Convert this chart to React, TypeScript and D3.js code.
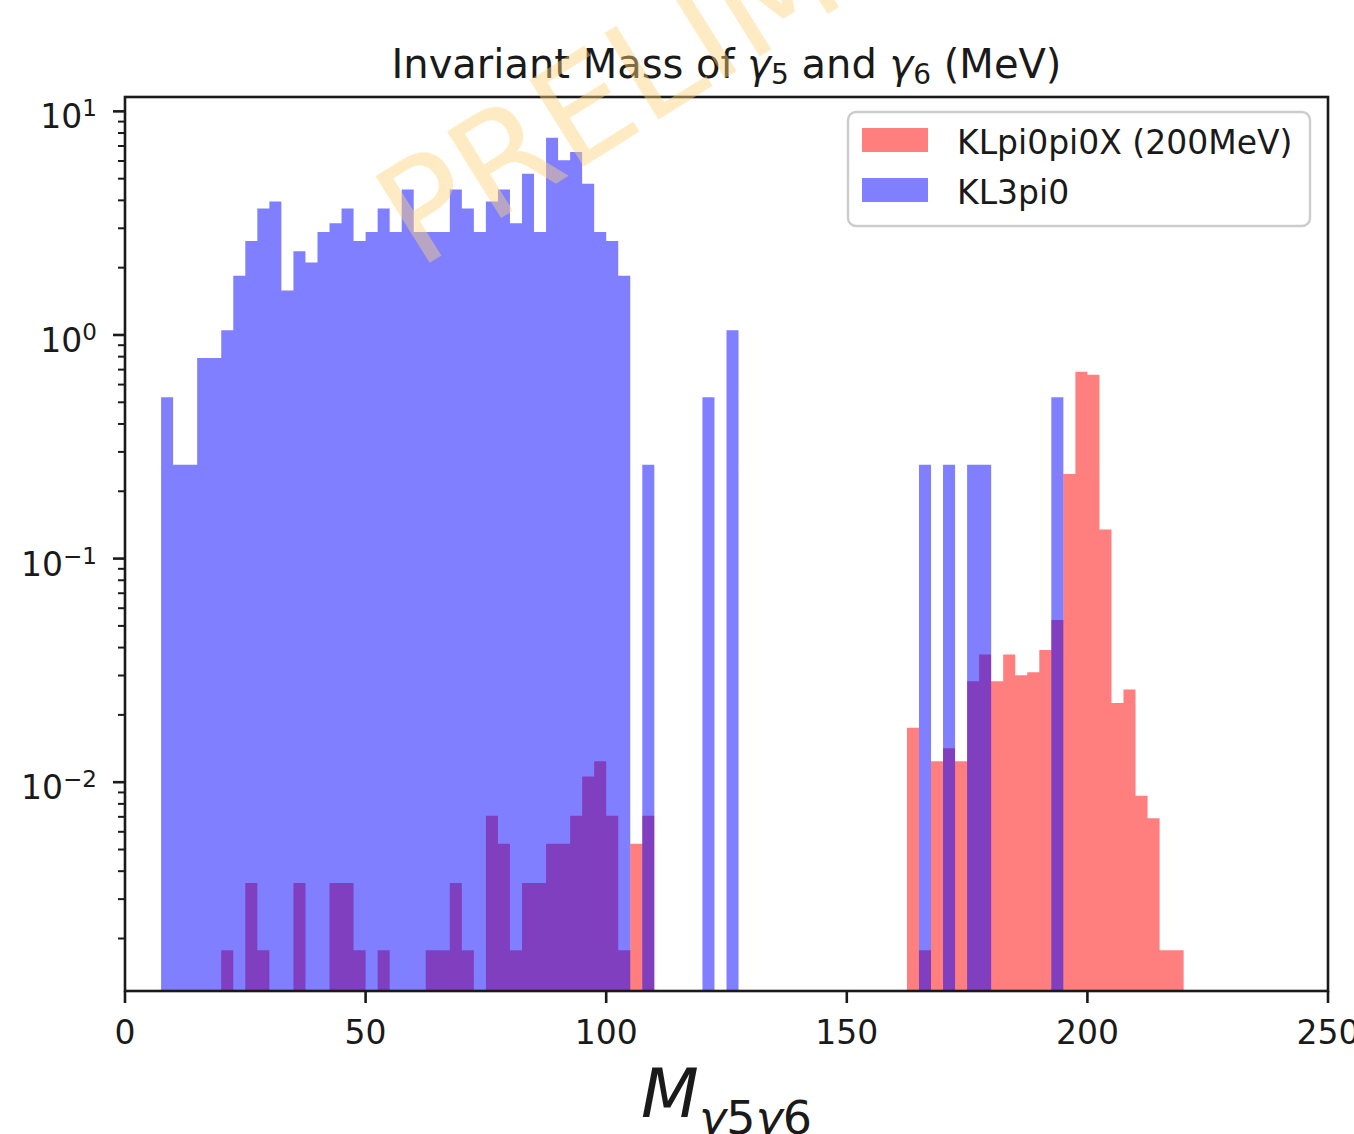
import * as d3 from "d3";

// histogram bins (left edges, width 2.5 MeV) and weighted counts
const BIN_WIDTH = 2.5;

const redBins = [20, 25, 27.5, 35, 42.5, 45, 47.5, 52.5, 62.5, 65, 67.5, 70, 75, 77.5, 80, 82.5, 85, 87.5, 90, 92.5, 95, 97.5, 100, 102.5, 105, 107.5, 162.5, 165, 167.5, 170, 172.5, 175, 177.5, 180, 182.5, 185, 187.5, 190, 192.5, 195, 197.5, 200, 202.5, 205, 207.5, 210, 212.5, 215, 217.5];
const redValues = [0.00177, 0.00354, 0.00177, 0.00354, 0.00354, 0.00354, 0.00177, 0.00177, 0.00177, 0.00177, 0.00354, 0.00177, 0.00708, 0.0053, 0.00177, 0.00354, 0.00354, 0.0053, 0.0053, 0.00708, 0.0106, 0.0124, 0.00708, 0.00177, 0.0053, 0.00708, 0.0175, 0.00177, 0.0124, 0.0142, 0.0124, 0.0283, 0.0372, 0.0283, 0.0372, 0.0301, 0.031, 0.039, 0.0531, 0.239, 0.684, 0.664, 0.135, 0.0226, 0.026, 0.0087, 0.0069, 0.00177, 0.00177];

const blueBins = [7.5, 10, 12.5, 15, 17.5, 20, 22.5, 25, 27.5, 30, 32.5, 35, 37.5, 40, 42.5, 45, 47.5, 50, 52.5, 55, 57.5, 60, 62.5, 65, 67.5, 70, 72.5, 75, 77.5, 80, 82.5, 85, 87.5, 90, 92.5, 95, 97.5, 100, 102.5, 107.5, 120, 125, 165, 170, 175, 177.5, 192.5];
const blueValues = [0.526, 0.263, 0.263, 0.789, 0.789, 1.05, 1.84, 2.63, 3.68, 3.95, 1.58, 2.37, 2.11, 2.89, 3.16, 3.68, 2.63, 2.89, 3.68, 2.89, 4.47, 2.89, 2.89, 2.89, 4.47, 3.68, 2.89, 3.95, 4.47, 3.16, 5.26, 2.89, 7.63, 6.05, 6.58, 4.74, 2.89, 2.63, 1.84, 0.263, 0.526, 1.05, 0.263, 0.263, 0.263, 0.263, 0.526];

const xTicks = [0, 50, 100, 150, 200, 250];
const yTicks = [1e-2, 1e-1, 1, 10];
const yTickExps = ["\u22122", "\u22121", "0", "1"];
const legendLabels = ["KLpi0pi0X (200MeV)", "KL3pi0"];

const W = 1354;
const H = 1134;
const M = { left: 125, right: 1328, top: 97, bottom: 991 };
const FONT = "DejaVu Sans";
const INK = "#1a1a1a";
const LW = 2.6;

export default function App() {
  const x = d3.scaleLinear().domain([0, 250]).range([M.left, M.right]);

  // matplotlib-style autoscale: 5% margin in log space
  const all = [...redValues, ...blueValues].filter((v) => v > 0);
  const lo = Math.log10(d3.min(all) as number);
  const hi = Math.log10(d3.max(all) as number);
  const pad = (hi - lo) * 0.05;
  const y = d3
    .scaleLog()
    .domain([10 ** (lo - pad), 10 ** (hi + pad)])
    .range([M.bottom, M.top]);

  const histPath = (bins: number[], values: number[]) => {
    const p = d3.path();
    bins.forEach((b, i) => {
      if (!(values[i] > 0)) return;
      const x0 = x(b);
      const x1 = x(b + BIN_WIDTH);
      const y0 = y(values[i]);
      p.rect(x0, y0, x1 - x0, M.bottom - y0);
    });
    return p.toString();
  };

  const [dMin, dMax] = y.domain();
  const minorTicks: number[] = [];
  for (let e = -3; e <= 1; e++) {
    for (let m = 2; m <= 9; m++) {
      const v = m * 10 ** e;
      if (v >= dMin && v <= dMax) minorTicks.push(v);
    }
  }

  const cx = (M.left + M.right) / 2;

  return (
    <svg
      width={W}
      height={H}
      style={{ position: "absolute", left: 0, top: 0, background: "#fff" }}
      fontFamily={FONT}
    >
      <defs>
        <clipPath id="plot">
          <rect x={M.left} y={M.top} width={M.right - M.left} height={M.bottom - M.top} />
        </clipPath>
      </defs>
      <rect x={0} y={0} width={W} height={H} fill="#fff" />

      <g clipPath="url(#plot)">
        <path d={histPath(redBins, redValues)} fill="#ff0000" fillOpacity={0.5} />
        <path d={histPath(blueBins, blueValues)} fill="#0000ff" fillOpacity={0.5} />
      </g>

      {/* frame */}
      <rect
        x={M.left}
        y={M.top}
        width={M.right - M.left}
        height={M.bottom - M.top}
        fill="none"
        stroke={INK}
        strokeWidth={LW}
      />

      {/* x axis */}
      {xTicks.map((t) => (
        <g key={t}>
          <line x1={x(t)} x2={x(t)} y1={M.bottom} y2={M.bottom + 12} stroke={INK} strokeWidth={LW} />
          <text x={x(t)} y={1044} textAnchor="middle" fontSize={33} fill={INK}>
            {t}
          </text>
        </g>
      ))}

      {/* y axis */}
      {minorTicks.map((v, i) => (
        <line key={i} x1={M.left - 7} x2={M.left} y1={y(v)} y2={y(v)} stroke={INK} strokeWidth={2} />
      ))}
      {yTicks.map((t, i) => (
        <g key={t}>
          <line x1={M.left - 12} x2={M.left} y1={y(t)} y2={y(t)} stroke={INK} strokeWidth={LW} />
          <text x={97} y={y(t) + 17} textAnchor="end" fontSize={33} fill={INK}>
            10
            <tspan fontSize={23} dy={-12}>
              {yTickExps[i]}
            </tspan>
          </text>
        </g>
      ))}

      {/* title */}
      <text x={cx} y={78} textAnchor="middle" fontSize={40} fill={INK}>
        Invariant Mass of{" "}
        <tspan fontStyle="italic">γ</tspan>
        <tspan fontSize={28} dy={6}>5</tspan>
        <tspan dy={-6}> and </tspan>
        <tspan fontStyle="italic">γ</tspan>
        <tspan fontSize={28} dy={6}>6</tspan>
        <tspan dy={-6}> (MeV)</tspan>
      </text>

      {/* x label */}
      <text x={cx} y={1117} textAnchor="middle" fontSize={67} fill={INK}>
        <tspan fontStyle="italic">M</tspan>
        <tspan fontSize={46} fontStyle="italic" dy={17}>γ</tspan>
        <tspan fontSize={46}>5</tspan>
        <tspan fontSize={46} fontStyle="italic">γ</tspan>
        <tspan fontSize={46}>6</tspan>
      </text>

      {/* legend */}
      <g>
        <rect
          x={848}
          y={112}
          width={462}
          height={114}
          rx={8}
          fill="#fff"
          fillOpacity={0.8}
          stroke="#cccccc"
          strokeWidth={2.4}
        />
        {legendLabels.map((lab, i) => (
          <g key={lab} transform={`translate(0, ${i * 50})`}>
            <rect
              x={862}
              y={128}
              width={66}
              height={24}
              fill={i === 0 ? "#ff0000" : "#0000ff"}
              fillOpacity={0.5}
            />
            <text x={957} y={154} fontSize={33} fill={INK}>
              {lab}
            </text>
          </g>
        ))}
      </g>

      {/* watermark */}
      <text
        transform="translate(418, 270) rotate(-32)"
        fontSize={140}
        fill="#ffd37a"
        fillOpacity={0.45}
      >
        PRELIMINARY
      </text>
    </svg>
  );
}
